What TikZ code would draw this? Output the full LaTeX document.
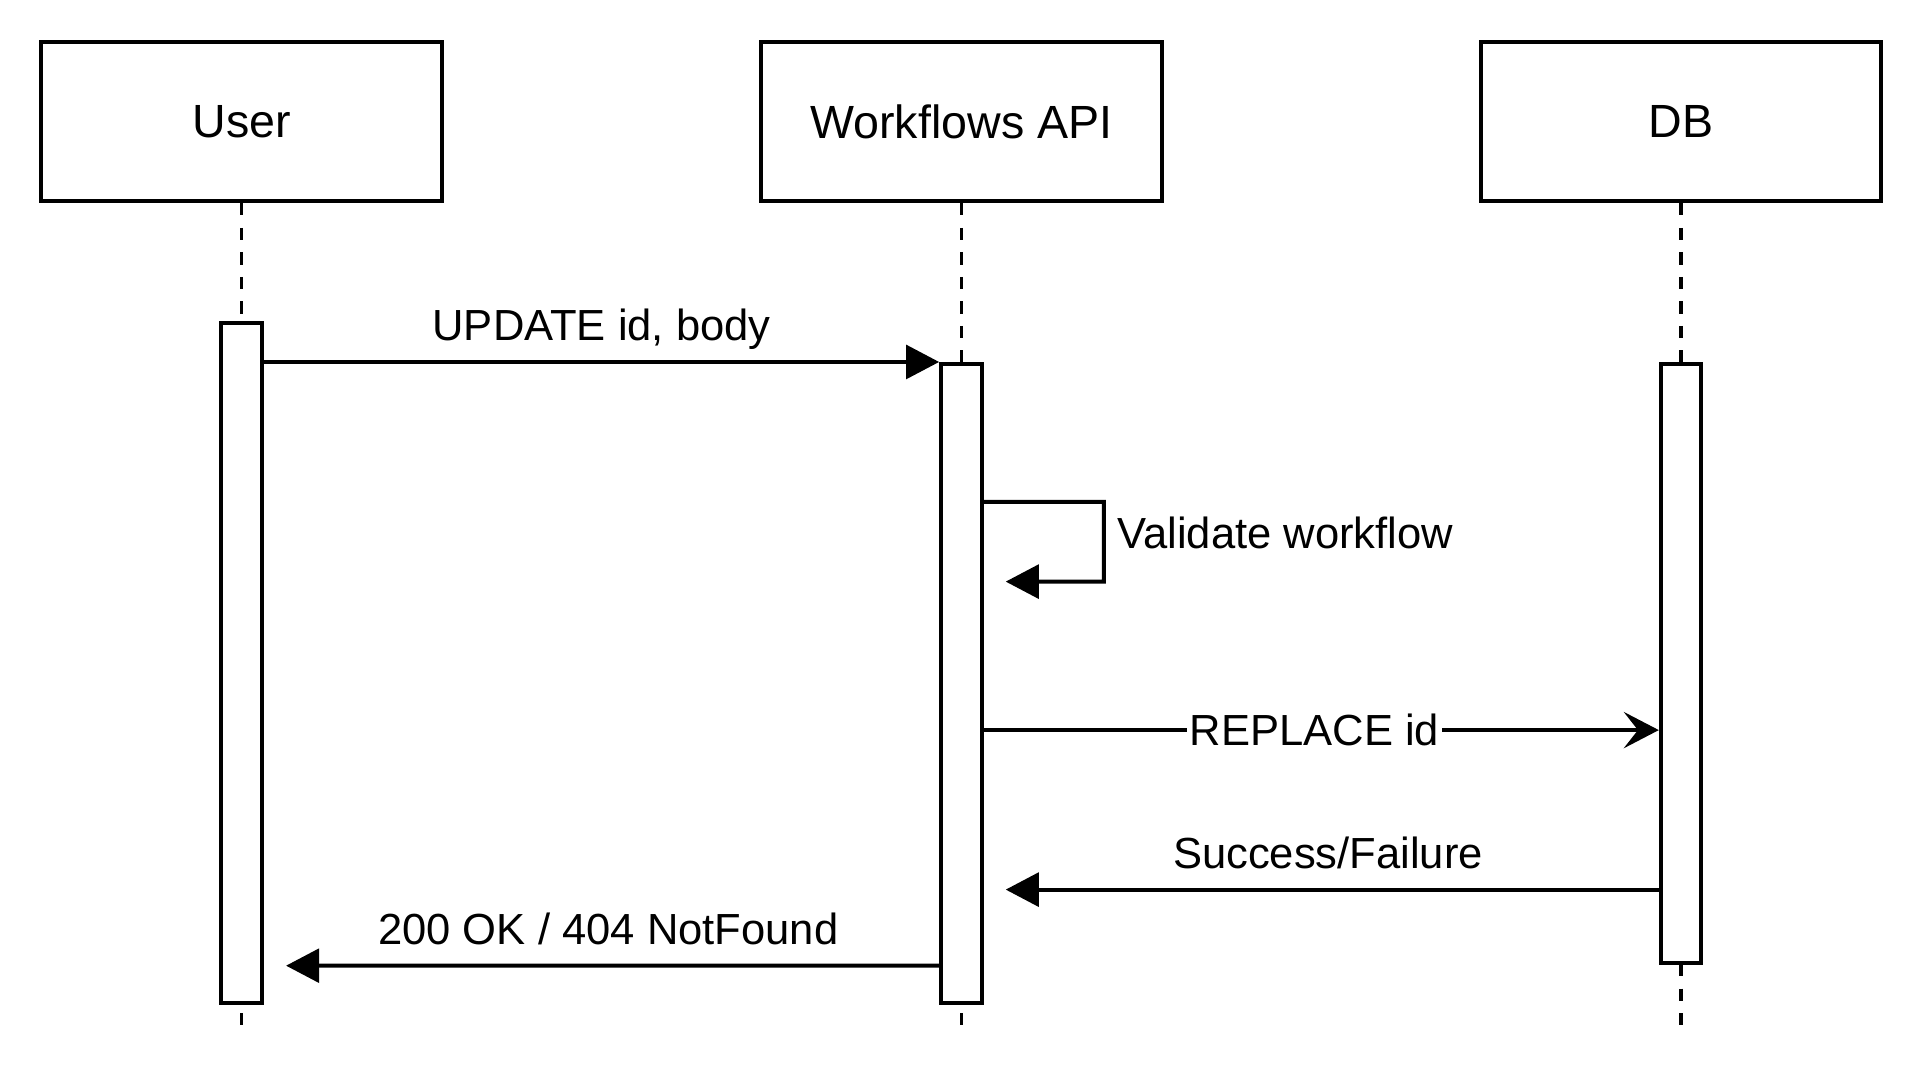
\documentclass[tikz,border=0pt]{standalone}
\usepackage{fontspec}
\setmainfont{Liberation Sans}
\usetikzlibrary{arrows.meta}
\newcommand{\boxfont}{\fontsize{21.6pt}{26pt}\selectfont}
\newcommand{\msgfont}{\fontsize{20.2pt}{24pt}\selectfont}

\begin{document}
\begin{tikzpicture}[line width=1.85pt]

\tikzstyle{actor}=[rectangle, draw, minimum width=6.53cm, minimum height=2.6cm, font=\boxfont]
\tikzstyle{lifeline}=[line width=1.6pt, dash pattern=on 0.2cm off 0.2cm]
\tikzstyle{activation}=[rectangle, draw, fill=white, minimum width=0.66cm, inner sep=0pt, anchor=north]
\tikzstyle{arrow}=[-{Triangle[length=0.54cm,width=0.55cm]}]
\tikzstyle{reply}=[-{Triangle[length=0.54cm,width=0.55cm]}, shorten >=0.36cm]
\tikzstyle{call}=[-{Stealth[length=0.57cm,width=0.59cm,inset=0.23cm]}]
\tikzstyle{msglabel}=[font=\msgfont, anchor=base, yshift=0.35cm, inner sep=0pt]

\useasboundingbox (0,0) rectangle (31.36,17.66);

\node (A) [actor] at (3.94,15.68) {User};
\node (B) [actor] at (15.67,15.68) {Workflows API};
\node (C) [actor] at (27.40,15.68) {DB};

\coordinate (A2) at (3.94,0.9);
\coordinate (B2) at (15.67,0.9);
\coordinate (C2) at (27.40,0.9);

\draw [lifeline] (A) -- (A2);
\draw [lifeline] (B) -- (B2);
\draw [lifeline] (C) -- (C2);

\node (A1) [activation, minimum height=11.08cm] at (3.94,12.42) {};
\node (B1) [activation, minimum height=10.42cm] at (15.67,11.76) {};
\node (C1) [activation, minimum height=9.76cm] at (27.40,11.76) {};

\draw [arrow] (A1.east |- B1.north) -- node[msglabel] {UPDATE id, body} (B1.north west);
\draw [reply] ([yshift=-2.28cm]B1.north east) -- ++(1.96,0) -- ++(0,-1.3)
      node[midway, anchor=west, xshift=0.19cm, yshift=0.15cm, font=\msgfont, inner sep=0pt] {Validate workflow}
      -- ([yshift=-3.58cm]B1.north east);
\draw [call] ([yshift=-6cm]B1.north east) -- node[pos=0.49, font=\msgfont, fill=white, inner sep=1.5pt] {REPLACE id} ([yshift=-6cm]C1.north west);
\draw [reply] ([yshift=-8.6cm]C1.north west) -- node[msglabel, pos=0.49] {Success/Failure} ([yshift=-8.6cm]B1.north east);
\draw [reply] ([yshift=-9.84cm]B1.north west) -- node[msglabel, pos=0.49] {200 OK / 404 NotFound} ([yshift=-10.5cm]A1.north east);

\end{tikzpicture}
\end{document}
